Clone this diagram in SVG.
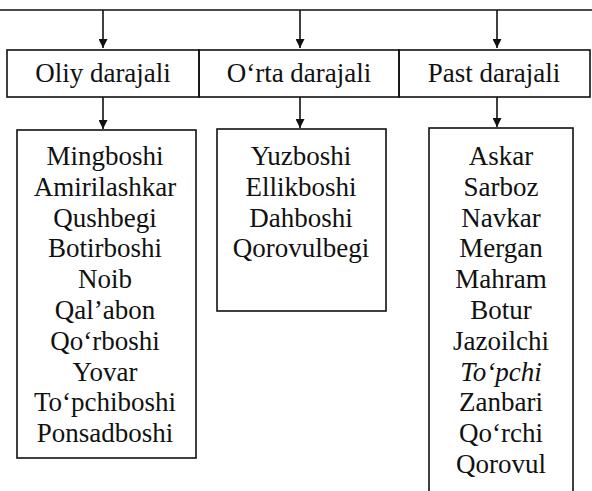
<svg xmlns="http://www.w3.org/2000/svg" width="592" height="491" viewBox="0 0 592 491">
<defs>
<marker id="ah" viewBox="0 0 10 10" refX="10" refY="5" markerWidth="9" markerHeight="9" markerUnits="userSpaceOnUse" orient="auto">
<path d="M0,0 L10,5 L0,10 Z" fill="#111"/>
</marker>
</defs>
<rect width="592" height="491" fill="#fff"/>
<g id="connectors" stroke="#111" stroke-width="1.6" fill="none">
<line x1="0" y1="10" x2="592" y2="10"/>
<line x1="103" y1="10" x2="103" y2="48" marker-end="url(#ah)"/>
<line x1="300" y1="10" x2="300" y2="48" marker-end="url(#ah)"/>
<line x1="497" y1="10" x2="497" y2="48" marker-end="url(#ah)"/>
<line x1="103" y1="97" x2="103" y2="129" marker-end="url(#ah)"/>
<line x1="300" y1="97" x2="300" y2="128" marker-end="url(#ah)"/>
<line x1="497" y1="97" x2="497" y2="127" marker-end="url(#ah)"/>
</g>
<g id="header-oliy">
<rect x="7" y="50" width="192" height="47" fill="none" stroke="#111" stroke-width="1.6"/>
<text x="103" y="82" font-family="Liberation Serif, DejaVu Serif, serif" font-size="27" fill="#111" text-anchor="middle">Oliy darajali</text>
</g>
<g id="header-orta">
<rect x="199" y="50" width="200" height="47" fill="none" stroke="#111" stroke-width="1.6"/>
<text x="299" y="82" font-family="Liberation Serif, DejaVu Serif, serif" font-size="27" fill="#111" text-anchor="middle">O&#8216;rta darajali</text>
</g>
<g id="header-past">
<rect x="399" y="50" width="191" height="47" fill="none" stroke="#111" stroke-width="1.6"/>
<text x="494" y="82" font-family="Liberation Serif, DejaVu Serif, serif" font-size="27" fill="#111" text-anchor="middle">Past darajali</text>
</g>
<g id="list-oliy">
<rect x="17" y="130" width="179" height="328" fill="none" stroke="#111" stroke-width="1.6"/>
<text x="105" y="165" font-family="Liberation Serif, DejaVu Serif, serif" font-size="27" fill="#111" text-anchor="middle">Mingboshi</text>
<text x="105" y="196" font-family="Liberation Serif, DejaVu Serif, serif" font-size="27" fill="#111" text-anchor="middle">Amirilashkar</text>
<text x="105" y="227" font-family="Liberation Serif, DejaVu Serif, serif" font-size="27" fill="#111" text-anchor="middle">Qushbegi</text>
<text x="105" y="257" font-family="Liberation Serif, DejaVu Serif, serif" font-size="27" fill="#111" text-anchor="middle">Botirboshi</text>
<text x="105" y="288" font-family="Liberation Serif, DejaVu Serif, serif" font-size="27" fill="#111" text-anchor="middle">Noib</text>
<text x="105" y="319" font-family="Liberation Serif, DejaVu Serif, serif" font-size="27" fill="#111" text-anchor="middle">Qal&#8217;abon</text>
<text x="105" y="350" font-family="Liberation Serif, DejaVu Serif, serif" font-size="27" fill="#111" text-anchor="middle">Qo&#8216;rboshi</text>
<text x="105" y="381" font-family="Liberation Serif, DejaVu Serif, serif" font-size="27" fill="#111" text-anchor="middle">Yovar</text>
<text x="105" y="411" font-family="Liberation Serif, DejaVu Serif, serif" font-size="27" fill="#111" text-anchor="middle">To&#8216;pchiboshi</text>
<text x="105" y="442" font-family="Liberation Serif, DejaVu Serif, serif" font-size="27" fill="#111" text-anchor="middle">Ponsadboshi</text>
</g>
<g id="list-orta">
<rect x="217" y="129" width="169" height="182" fill="none" stroke="#111" stroke-width="1.6"/>
<text x="301" y="165" font-family="Liberation Serif, DejaVu Serif, serif" font-size="27" fill="#111" text-anchor="middle">Yuzboshi</text>
<text x="301" y="196" font-family="Liberation Serif, DejaVu Serif, serif" font-size="27" fill="#111" text-anchor="middle">Ellikboshi</text>
<text x="301" y="227" font-family="Liberation Serif, DejaVu Serif, serif" font-size="27" fill="#111" text-anchor="middle">Dahboshi</text>
<text x="301" y="257" font-family="Liberation Serif, DejaVu Serif, serif" font-size="27" fill="#111" text-anchor="middle">Qorovulbegi</text>
</g>
<g id="list-past">
<rect x="429" y="128" width="144" height="372" fill="none" stroke="#111" stroke-width="1.6"/>
<text x="501" y="165" font-family="Liberation Serif, DejaVu Serif, serif" font-size="27" fill="#111" text-anchor="middle">Askar</text>
<text x="501" y="196" font-family="Liberation Serif, DejaVu Serif, serif" font-size="27" fill="#111" text-anchor="middle">Sarboz</text>
<text x="501" y="227" font-family="Liberation Serif, DejaVu Serif, serif" font-size="27" fill="#111" text-anchor="middle">Navkar</text>
<text x="501" y="257" font-family="Liberation Serif, DejaVu Serif, serif" font-size="27" fill="#111" text-anchor="middle">Mergan</text>
<text x="501" y="288" font-family="Liberation Serif, DejaVu Serif, serif" font-size="27" fill="#111" text-anchor="middle">Mahram</text>
<text x="501" y="319" font-family="Liberation Serif, DejaVu Serif, serif" font-size="27" fill="#111" text-anchor="middle">Botur</text>
<text x="501" y="350" font-family="Liberation Serif, DejaVu Serif, serif" font-size="27" fill="#111" text-anchor="middle">Jazoilchi</text>
<text x="501" y="381" font-family="Liberation Serif, DejaVu Serif, serif" font-size="27" fill="#111" text-anchor="middle" font-style="italic">To&#8216;pchi</text>
<text x="501" y="411" font-family="Liberation Serif, DejaVu Serif, serif" font-size="27" fill="#111" text-anchor="middle">Zanbari</text>
<text x="501" y="442" font-family="Liberation Serif, DejaVu Serif, serif" font-size="27" fill="#111" text-anchor="middle">Qo&#8216;rchi</text>
<text x="501" y="473" font-family="Liberation Serif, DejaVu Serif, serif" font-size="27" fill="#111" text-anchor="middle">Qorovul</text>
</g>
</svg>
